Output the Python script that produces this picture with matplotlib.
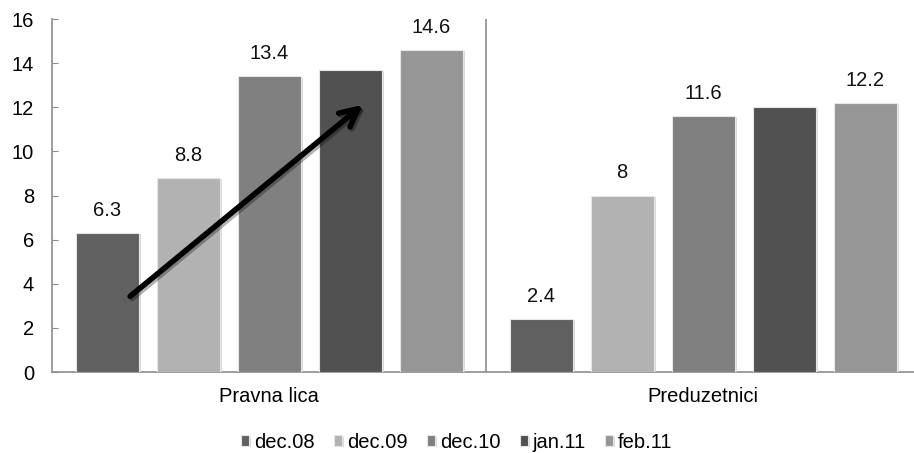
import matplotlib
matplotlib.use("Agg")
import matplotlib.pyplot as plt
import matplotlib.patheffects as pe
import numpy as np

plt.rcParams['font.family'] = ['Liberation Sans', 'DejaVu Sans']

categories = ["Pravna lica", "Preduzetnici"]
series = ["dec.08", "dec.09", "dec.10", "jan.11", "feb.11"]
values = {
    "dec.08": [6.3, 2.4],
    "dec.09": [8.8, 8.0],
    "dec.10": [13.4, 11.6],
    "jan.11": [13.7, 12.0],
    "feb.11": [14.6, 12.2],
}
labeled = ["dec.08", "dec.09", "dec.10", "feb.11"]
colors = ["#606060", "#b2b2b2", "#808080", "#515151", "#969696"]

fig = plt.figure(figsize=(9.14, 4.53), dpi=100)
ax = fig.add_axes([0.0569, 0.1788, 0.95, 0.7792])

x = np.arange(len(categories))
step = 0.1866
width = 0.145
shadow = [pe.SimplePatchShadow(offset=(1.5, -1), shadow_rgbFace='#d0d0d0', alpha=0.8), pe.Normal()]

fs = 14.5

for i, (name, col) in enumerate(zip(series, colors)):
    pos = x + (i - 2) * step
    bars = ax.bar(pos, values[name], width, color=col, label=name,
                  edgecolor='#e6e6e6', linewidth=0.8, zorder=3)
    for b in bars:
        b.set_path_effects(shadow)
    if name in labeled:
        for px, v in zip(pos, values[name]):
            ax.text(px, v + 0.6, "{:g}".format(v), ha='center', va='bottom',
                    fontsize=fs, color='#111111')

# trend arrow over the first group
ax.annotate("", xy=(0.221, 12.19), xytext=(-0.325, 3.35),
            arrowprops=dict(arrowstyle='->', lw=4, color='black',
                            mutation_scale=32,
                            path_effects=[pe.SimpleLineShadow(offset=(1.5, -1.5), alpha=0.3), pe.Normal()]),
            zorder=5)

ax.axvline(0.5, color='#8c8c8c', lw=1.2, zorder=2)

ax.set_xlim(-0.5, 1.5)
ax.set_ylim(0, 16)
ax.set_yticks(range(0, 17, 2))
ax.set_xticks(x)
ax.set_xticklabels(categories, fontsize=fs)
ax.tick_params(axis='x', length=0, pad=11)
ax.tick_params(axis='y', labelsize=fs, length=4, color='#8c8c8c', direction='in', pad=13)
for side in ['top', 'right']:
    ax.spines[side].set_visible(False)
for side in ['left', 'bottom']:
    ax.spines[side].set_color('#8c8c8c')
    ax.spines[side].set_linewidth(1.2)

fig.legend(loc='center', bbox_to_anchor=(0.5, 0.024), ncol=5, frameon=False,
           fontsize=fs, handlelength=0.4, handleheight=0.4,
           handletextpad=0.25, columnspacing=0.95)

plt.savefig("out.png", dpi=100)
